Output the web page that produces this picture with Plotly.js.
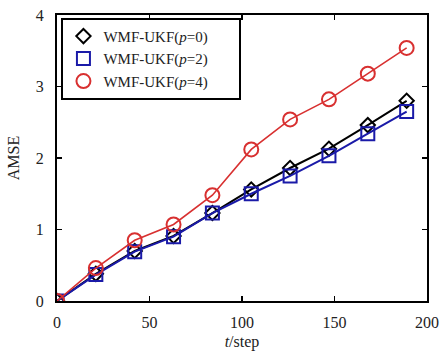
<!DOCTYPE html>
<html>
<head>
<meta charset="utf-8">
<script src="https://cdn.plot.ly/plotly-3.0.1.min.js"></script>
<style>html,body{margin:0;padding:0;background:#fff;}#chart{width:444px;height:357px;}</style>
</head>
<body>
<div id="chart"></div>
<script>
var steps = [0, 21, 42, 63, 84, 105, 126, 147, 168, 189];
var amseP0 = [0, 0.38, 0.70, 0.91, 1.23, 1.56, 1.86, 2.13, 2.46, 2.80];
var amseP2 = [0, 0.37, 0.69, 0.90, 1.23, 1.50, 1.75, 2.03, 2.34, 2.65];
var amseP4 = [0, 0.46, 0.85, 1.07, 1.48, 2.12, 2.54, 2.82, 3.18, 3.54];
var seriesNames = ['WMF-UKF(<i>p</i>=0)', 'WMF-UKF(<i>p</i>=2)', 'WMF-UKF(<i>p</i>=4)'];
var xTicks = [0, 50, 100, 150, 200];
var yTicks = [0, 1, 2, 3, 4];

var colors = ['#000000', '#1a1aa8', '#d83030'];
var symbols = ['diamond-open', 'square-open', 'circle-open'];
var sizes = [11, 13, 14];
var widths = [2, 2, 1.6];
var ys = [amseP0, amseP2, amseP4];
var pad = '\u00a0\u00a0\u00a0\u00a0\u00a0\u00a0\u00a0';

var traces = [];
for (var i = 0; i < 3; i++) {
  traces.push({
    x: steps, y: ys[i], mode: 'lines+markers', showlegend: false,
    line: {color: colors[i], width: widths[i]},
    marker: {symbol: symbols[i], size: sizes[i], color: colors[i], line: {width: 2, color: colors[i]}}
  });
}
for (var j = 0; j < 3; j++) {
  traces.push({
    x: [null], y: [null], mode: 'markers', name: seriesNames[j] + pad,
    marker: {symbol: symbols[j], size: sizes[j], color: colors[j], line: {width: 2, color: colors[j]}}
  });
}

var font = {family: 'Liberation Serif, Times New Roman, serif', size: 15, color: '#222'};
var f16 = {family: font.family, size: 16, color: '#222'};
var layout = {
  width: 444, height: 357,
  margin: {l: 57, r: 17, t: 15, b: 56},
  paper_bgcolor: '#fff', plot_bgcolor: '#fff',
  font: font,
  showlegend: true,
  legend: {x: 0.012, y: 0.99, xanchor: 'left', yanchor: 'top', bordercolor: '#000', borderwidth: 2,
           bgcolor: '#fff', font: {family: font.family, size: 15, color: '#222'}, tracegroupgap: 0, itemwidth: 30},
  xaxis: {range: [0, 200], tickvals: xTicks, ticks: 'inside', ticklen: 5, tickwidth: 1.5, tickcolor: '#000',
          showline: true, linecolor: '#000', linewidth: 2, mirror: 'ticks', showgrid: false, zeroline: false,
          ticklabelstandoff: 6, tickfont: f16,
          title: {text: '<i>t</i>/step', font: f16, standoff: 6}},
  yaxis: {range: [0, 4], tickvals: yTicks, ticks: 'inside', ticklen: 5, tickwidth: 1.5, tickcolor: '#000',
          showline: true, linecolor: '#000', linewidth: 2, mirror: 'ticks', showgrid: false, zeroline: false,
          ticklabelstandoff: 8, tickfont: f16,
          title: {text: 'AMSE', font: f16, standoff: 12}}
};
Plotly.newPlot('chart', traces, layout, {displayModeBar: false, staticPlot: true});
</script>
</body>
</html>
